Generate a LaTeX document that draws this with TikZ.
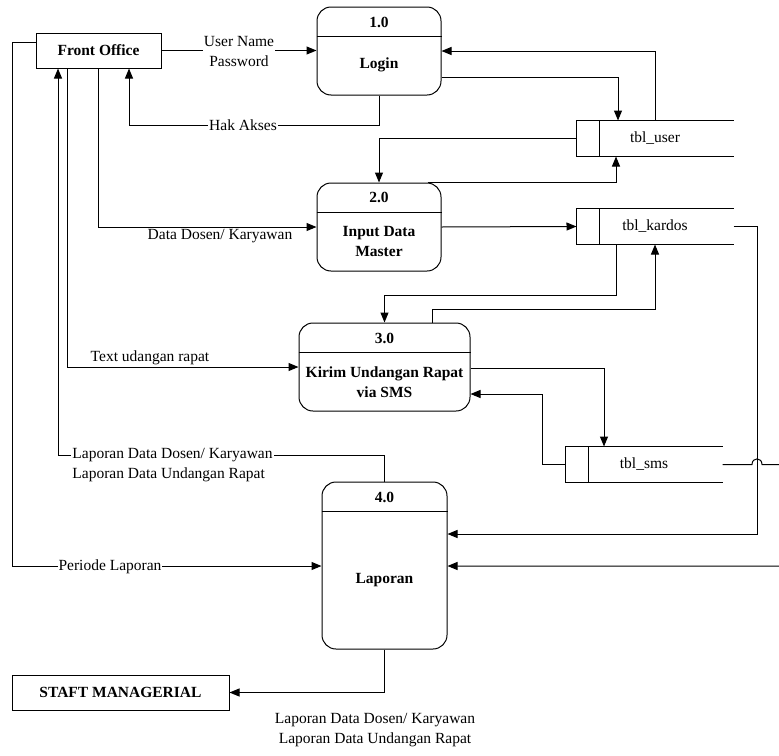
\documentclass[tikz,border=0pt]{standalone}
\usepackage{fontspec}
\setmainfont{Liberation Serif}
\usetikzlibrary{arrows.meta}
\begin{document}
\begin{tikzpicture}[x=1pt,y=-1pt,
  every node/.style={font=\fontsize{15.5}{20}\selectfont},
  line width=1pt,
  arr/.style={-{Triangle[length=10pt,width=8pt]}},
  proc/.style={draw, rounded corners=14pt, inner sep=0pt},
  ptext/.style={font=\fontsize{15.5}{20}\selectfont\bfseries, align=center, inner sep=0pt},
  ent/.style={draw, inner sep=0pt, font=\fontsize{15.5}{20}\selectfont\bfseries},
  store/.style={inner sep=0pt, minimum width=156pt, minimum height=35pt},
  lbl/.style={fill=white, inner sep=1pt, align=center}
]
\useasboundingbox (0,0) rectangle (779,755);

% external entities
\node[ent, minimum width=125pt, minimum height=35pt] (FO) at (98.5,50.5) {Front Office};
\node[ent, minimum width=217pt, minimum height=35pt] (SM) at (120.5,692.5) {STAFT MANAGERIAL};

% processes
\node[proc, minimum width=124pt, minimum height=88pt] (P1) at (379,51) {};
\draw (P1.west |- 0,36) -- (P1.east |- 0,36);
\node[ptext] (P1n) at (379,22) {1.0};
\node[ptext] (P1t) at (379,65) {Login};

\node[proc, minimum width=124pt, minimum height=88pt] (P2) at (379,227) {};
\draw (P2.west |- 0,212) -- (P2.east |- 0,212);
\node[ptext] (P2n) at (379,197) {2.0};
\node[ptext] (P2t) at (379,241) {Input Data\\Master};

\node[proc, minimum width=171pt, minimum height=88pt] (P3) at (384.5,367) {};
\draw (P3.west |- 0,352) -- (P3.east |- 0,352);
\node[ptext] (P3n) at (384.5,338) {3.0};
\node[ptext] (P3t) at (384.5,382) {Kirim Undangan Rapat\\via SMS};

\node[proc, minimum width=125pt, minimum height=167pt] (P4) at (384.5,565.5) {};
\draw (P4.west |- 0,511) -- (P4.east |- 0,511);
\node[ptext] (P4n) at (384.5,497) {4.0};
\node[ptext] (P4t) at (384.5,580) {Laporan};

% data stores
\node[store] (S1) at (655,138.5) {tbl\_user};
\draw (S1.north east) -- (S1.north west) -- (S1.south west) -- (S1.south east);
\draw ([xshift=23pt]S1.north west) -- ([xshift=23pt]S1.south west);

\node[store] (S2) at (655,226.5) {tbl\_kardos};
\draw (S2.north east) -- (S2.north west) -- (S2.south west) -- (S2.south east);
\draw ([xshift=23pt]S2.north west) -- ([xshift=23pt]S2.south west);

\node[store] (S3) at (644,464.5) {tbl\_sms};
\draw (S3.north east) -- (S3.north west) -- (S3.south west) -- (S3.south east);
\draw ([xshift=23pt]S3.north west) -- ([xshift=23pt]S3.south west);

% flows
\draw[arr] (FO.east) -- (FO.east -| P1.west);
\node[lbl] (L1) at (239,51) {User Name\\Password};

\draw[arr] (P1.south) |- (129,125) -- (FO.south -| 129,0);
\node[lbl] (L2) at (243,125) {Hak Akses};

\draw[arr] (S1.north) |- (P1.east);
\draw[arr] (P1.east |- 0,77) -| (S1.north -| 618,0);
\draw[arr] (S1.west) -| (P2.north);
\draw[arr] ([xshift=-14pt]P2.north east) -| (S1.south -| 616,0);
\draw[arr] (P2.east) -- (S2.west);
\draw[arr] (S2.east) -| (757,534) -- (P4.east |- 0,534);
\draw[arr] (S2.south -| 616,0) -- (616,295) -| (P3.north);
\draw[arr] (P3.north -| 432,0) |- (655,309) -- (S2.south);
\draw[arr] (P3.east |- 0,368) -| (S3.north -| 604,0);
\draw[arr] (S3.west) -| (542,394) -- (P3.east |- 0,394);
\draw[arr] (S3.east) -- (752,464.5) .. controls (752,457) and (762,457) .. (762,464.5) -- (790,464.5) -- (790,566) -- (P4.east |- 0,566);

\draw[arr] (FO.west |- 0,42) -| (12,566) -- (P4.west |- 0,566);
\node[lbl] (L3) at (110,567) {Periode Laporan};

\draw[arr] (FO.south -| 98,0) |- (P2.west);
\node[lbl] (L4) at (220,236) {Data Dosen/ Karyawan};

\draw[arr] (FO.south -| 67,0) |- (P3.west);
\node[lbl] (L5) at (150,358) {Text udangan rapat};

\draw[arr] (P4.north) |- (58,455) -- (FO.south -| 58,0);
\node[lbl, align=left] (L6) at (172.5,465) {Laporan Data Dosen/ Karyawan\\Laporan Data Undangan Rapat};

\draw[arr] (P4.south) |- (SM.east);
\node[align=center, inner sep=0pt] (L7) at (375,730) {Laporan Data Dosen/ Karyawan\\Laporan Data Undangan Rapat};
\end{tikzpicture}
\end{document}
